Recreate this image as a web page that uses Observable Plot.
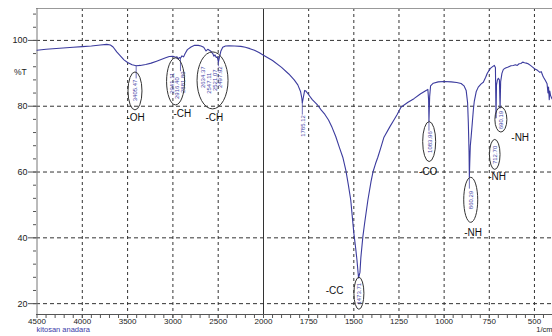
<!DOCTYPE html>
<html><head><meta charset="utf-8">
<script src="https://cdn.jsdelivr.net/npm/d3@7"></script>
<script src="https://cdn.jsdelivr.net/npm/@observablehq/plot@0.6"></script>
<style>
html,body{margin:0;padding:0;background:#fff;}
#chart svg{display:block;}
</style></head><body><div id="chart"></div>
<script>
// ---- spectrum (wavenumber 1/cm, %T) ----
const wavenumber = [4500,4400,4250,4100,4000,3900,3800,3730,3690,3660,3620,3580,3540,3500,3450,3405.47,3360,3300,3240,3180,3130,3080,3040,3000,2970,2955,2941.11,2930,2916.40,2900,2881.89,2865,2840,2800,2760,2720,2690,2660,2634.37,2615,2585,2560,2547.11,2535,2521.07,2510,2497.92,2485,2470,2450,2420,2380,2320,2250,2200,2150,2100,2050,2000,1950,1900,1860,1830,1810,1795,1788,1785.12,1780,1772,1765,1750,1730,1700,1680,1660,1640,1620,1600,1580,1561,1544,1530,1517,1500,1490,1483,1473.71,1466,1461,1450,1440,1422,1405,1394,1380,1367,1350,1333,1300,1278,1260,1239,1200,1167,1130,1100,1090,1086,1083.96,1080,1075,1060,1033,1000,961,930,906,890,878,870,866,862,860.29,858,855,850,844,838,833,822,811,795,783,770,761,744,730,722,716,712.70,710,705,700,694,690.19,687,680,672,660,645,630,617,605,595,585,575,565,555,545,535,522,510,500,483,470,462,455,450,440,430,425,422,418,415,411,405,400];
const transmittance = [97.0,97.3,97.6,97.9,98.1,98.3,98.6,98.8,98.6,98.0,96.5,95.3,94.1,93.3,92.6,92.3,92.4,92.7,93.1,93.7,94.2,94.7,95.1,95.2,94.9,95.0,94.3,94.8,94.6,95.3,95.0,96.0,97.2,98.0,98.5,98.5,98.3,97.9,96.8,97.3,96.8,96.0,95.2,95.6,94.8,95.0,93.4,95.0,96.8,97.9,98.3,98.4,98.3,98.2,97.9,97.5,97.0,96.3,95.5,93.9,91.8,89.8,88.0,86.5,84.5,82.5,81.0,82.5,84.8,84.6,83.5,82.0,80.3,78.8,77.5,75.8,73.5,70.8,67.5,64.5,60.5,56.0,51.5,41.5,37.0,33.5,27.8,29.5,34.0,40.3,44.5,51.5,57.0,60.0,62.5,64.5,67.5,70.6,73.8,75.8,77.5,79.7,81.2,82.3,83.8,84.8,85.1,82.0,75.5,83.0,86.2,87.0,87.4,87.5,87.4,87.2,86.9,86.2,84.8,81.0,75.0,66.0,58.5,63.0,68.0,71.0,75.0,79.0,81.5,84.5,85.8,86.8,87.3,88.8,90.0,91.5,92.1,92.4,91.8,76.5,86.5,88.0,88.5,88.0,79.5,87.5,90.0,91.2,91.6,91.9,92.3,92.4,92.6,92.4,92.9,93.0,93.4,93.2,93.1,92.9,92.4,91.9,91.4,90.9,90.3,90.5,89.4,88.8,87.9,86.8,84.0,85.8,82.0,84.6,83.3,82.5,82.0];

// ---- axis ticks ----
const xTickLabels = [4500,4000,3500,3000,2500,2000,1750,1500,1250,1000,750,500];
const xGridDashed = [4000,3500,3000,2500,1750,1500,1250,1000,750,500];
const xGridSolid = [2000];
const yTickLabels = [20,40,60,80,100];
const xMinorTicks = d3.range(2100, 4500, 100).concat(d3.range(450, 2000, 50));
const yMinorTicks = d3.range(20, 110, 4);
const xDomain = [4500, 2000, 400];
const yDomain = [16.7, 109.7];

// ---- peak number labels ----
const peakText = ["3405.47","2941.11","2916.40","2881.89","2634.37","2547.11","2521.07","2497.92","1785.12","1083.96","860.29","712.70","690.19","1473.71"];
const peakTextX = [3413,3004,2949,2893,2662,2596,2529,2474,1783,1080,850,717,683,1469];
const peakTextY = [84.8,87.0,85.5,87.3,88.8,87.0,87.9,88.8,74.0,69.1,51.5,65.2,75.8,23.0];

// ---- leader lines from peaks to labels ----
const leaderX = [3405.47,1785.12,1083.96,860.29,2916.40,2497.92];
const leaderTop = [92.3,81.0,75.5,58.5,94.6,93.4];
const leaderBottom = [88.3,77.3,72.4,54.8,90.5,92.0];

// ---- group labels ----
const groupText = ["-OH","-CH","-CH","-CO","-NH","-NH","-NH","-CC"];
const groupX = [3512,2993,2640,1139,889,756,628,1656];
const groupY = [76.4,77.6,76.4,60.2,41.4,58.6,70.5,23.8];

// ---- ellipses round the peak numbers ----
const ellipseX = [3413,2965,2557,1080,850,717,683,1469];
const ellipseY = [84.5,87.4,87.7,69.1,51.4,65.2,75.8,23.0];
const ellipseRx = [7,9,15.5,6.5,7,5.3,6,5];
const ellipseRy = [19,23.5,28.5,20,22.5,15,12.5,16];

const spectrum = wavenumber.map((w, i) => ({w, t: transmittance[i]}));
const peaks = peakText.map((s, i) => ({s, x: peakTextX[i], y: peakTextY[i]}));
const leaders = leaderX.map((x, i) => ({x, y1: leaderTop[i], y2: leaderBottom[i]}));
const groups = groupText.map((s, i) => ({s, x: groupX[i], y: groupY[i]}));

const font = "Arial, 'Liberation Sans', sans-serif";
const chart = Plot.plot({
  width: 552, height: 336,
  marginLeft: 36, marginRight: 0, marginTop: 8, marginBottom: 22,
  style: {fontFamily: font, fontSize: "8.5px", color: "#222", background: "#fff"},
  x: {type: "linear", domain: xDomain, range: [36.5, 263, 552], label: null},
  y: {domain: yDomain, label: null},
  marks: [
    Plot.ruleY(yTickLabels, {stroke: "#333", strokeDasharray: "4,3"}),
    Plot.ruleX(xGridDashed, {stroke: "#333", strokeDasharray: "3,3"}),
    Plot.ruleX(xGridSolid, {stroke: "#333"}),
    Plot.ruleY([yDomain[1]], {stroke: "#999"}),
    Plot.ruleX([xDomain[0]], {stroke: "#777"}),
    Plot.ruleY([yDomain[0]], {stroke: "#555"}),
    Plot.axisX({ticks: xMinorTicks, tickSize: 4, tickFormat: () => "", label: null, stroke: "#555"}),
    Plot.axisX({ticks: xTickLabels, tickSize: 4, tickPadding: 0, tickFormat: d => String(d), label: null, stroke: "#555", fill: "#222", fontSize: 8}),
    Plot.axisY({ticks: yMinorTicks, tickSize: 3, tickFormat: () => "", label: null, stroke: "#555"}),
    Plot.axisY({ticks: yTickLabels, tickSize: 8, tickPadding: 1, tickFormat: d => String(d), label: null, stroke: "#555", fill: "#222", fontSize: 9}),
    Plot.text(["%T"], {x: xDomain[0], y: 90.3, dx: -23, textAnchor: "start", fontSize: 8.5, fill: "#222"}),
    Plot.text(["kitosan anadara"], {frameAnchor: "bottom-left", dx: 0, dy: 17.7, textAnchor: "start", fill: "#3a3aa8", fontSize: 7.5}),
    Plot.text(["1/cm"], {frameAnchor: "bottom-right", dx: 0, dy: 17.7, textAnchor: "end", fill: "#222", fontSize: 7.5}),
    Plot.line(spectrum, {x: "w", y: "t", stroke: "#3b3b9e", strokeWidth: 1.1}),
    Plot.ruleX(leaders, {x: "x", y1: "y1", y2: "y2", stroke: "#4a4aa8", strokeWidth: 0.8}),
    Plot.text(peaks, {x: "x", y: "y", text: "s", rotate: -90, fontSize: 6, fill: "#4646a8"}),
    Plot.text(groups, {x: "x", y: "y", text: "s", textAnchor: "start", fontSize: 10, fill: "#111"})
  ]
});

const sx = chart.scale("x"), sy = chart.scale("y");
const fx = sx.apply ? (v => sx.apply(v)) : d3.scaleLinear(sx.domain, sx.range);
const fy = sy.apply ? (v => sy.apply(v)) : d3.scaleLinear(sy.domain, sy.range);
d3.select(chart).append("g")
  .attr("fill", "none").attr("stroke", "#333").attr("stroke-width", 1)
  .selectAll("ellipse")
  .data(ellipseX.map((x, i) => ({x, y: ellipseY[i], rx: ellipseRx[i], ry: ellipseRy[i]})))
  .join("ellipse")
  .attr("cx", d => fx(d.x)).attr("cy", d => fy(d.y))
  .attr("rx", d => d.rx).attr("ry", d => d.ry);

document.getElementById("chart").append(chart);
</script>
</body></html>
